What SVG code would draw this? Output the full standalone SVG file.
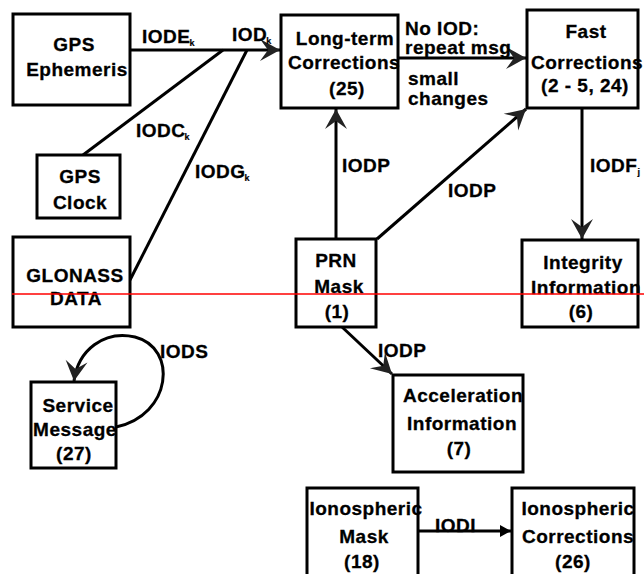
<svg xmlns="http://www.w3.org/2000/svg" width="644" height="574" viewBox="0 0 644 574">
<style>
.box{fill:#fff;stroke:#000;stroke-width:3}
.t{font-family:"Liberation Sans",Arial,sans-serif;font-weight:bold;font-size:19px;letter-spacing:0.5px;fill:#000;stroke:#000;stroke-width:0.3}
.m{text-anchor:middle}
.sub{font-size:9px;letter-spacing:0;stroke-width:0.2}
.c{fill:none;stroke:#000;stroke-width:3}
</style>
<defs>
<marker id="ah" markerUnits="userSpaceOnUse" markerWidth="24" markerHeight="26" viewBox="-22 -13 24 26" refX="0" refY="0" orient="auto">
<path d="M0,0 L-20,-11 L-12,0 L-20,11 Z" fill="#222"/>
</marker>
<marker id="ah2" markerUnits="userSpaceOnUse" markerWidth="14" markerHeight="14" viewBox="-12 -7 14 14" refX="0" refY="0" orient="auto">
<path d="M0,0 L-11,-6 L-11,6 Z" fill="#000"/>
</marker>
</defs>
<rect width="644" height="574" fill="#fff"/>
<g id="connectors">
<line class="c" x1="130" y1="50" x2="280" y2="50" marker-end="url(#ah)"/>
<line class="c" x1="83" y1="155" x2="223" y2="50"/>
<line class="c" x1="130" y1="280" x2="247" y2="50"/>
<line class="c" x1="398" y1="58" x2="526" y2="58" marker-end="url(#ah)"/>
<line class="c" x1="336" y1="239" x2="336" y2="109" marker-end="url(#ah)"/>
<line class="c" x1="377" y1="239" x2="526" y2="109" marker-end="url(#ah)"/>
<line class="c" x1="582" y1="108" x2="582" y2="239" marker-end="url(#ah)"/>
<line class="c" x1="342" y1="327" x2="392" y2="374" marker-end="url(#ah)"/>
<path class="c" d="M116,427 C172,415 178,348 135,337 C104,330 78,350 74,381" marker-end="url(#ah)"/>
<line class="c" x1="418" y1="531" x2="511" y2="531" marker-end="url(#ah2)"/>
<text class="t" x="142" y="43">IODE<tspan class="sub" dx="-1" dy="3">k</tspan></text>
<text class="t" x="232" y="41">IOD<tspan class="sub" dx="-1" dy="3">k</tspan></text>
<text class="t" x="136" y="137">IODC<tspan class="sub" dx="-1" dy="3">k</tspan></text>
<text class="t" x="195" y="178">IODG<tspan class="sub" dx="-1" dy="3">k</tspan></text>
<text class="t" x="405" y="35">No IOD:</text>
<text class="t" x="405" y="54">repeat msg</text>
<text class="t" x="408" y="85">small</text>
<text class="t" x="408" y="105">changes</text>
<text class="t" x="342" y="172">IODP</text>
<text class="t" x="448" y="197">IODP</text>
<text class="t" x="590" y="172">IODF<tspan class="sub" dx="0" dy="3">j</tspan></text>
<text class="t" x="378" y="357">IODP</text>
<text class="t" x="160" y="358">IODS</text>
<text class="t" x="435" y="532">IODI</text>
</g>
<g id="gps-ephemeris">
<rect class="box" x="13" y="14" width="117" height="91"/>
<text class="t m" x="74" y="51">GPS</text>
<text class="t m" x="77" y="76">Ephemeris</text>
</g>
<g id="gps-clock">
<rect class="box" x="37" y="155" width="83" height="63"/>
<text class="t m" x="80" y="183">GPS</text>
<text class="t m" x="80" y="209">Clock</text>
</g>
<g id="glonass">
<rect class="box" x="13" y="237" width="117" height="90"/>
<text class="t m" x="75" y="282">GLONASS</text>
<text class="t m" x="76" y="305">DATA</text>
</g>
<g id="long-term">
<rect class="box" x="281" y="15" width="117" height="93"/>
<text class="t m" x="345" y="45">Long-term</text>
<text class="t m" x="344" y="69">Corrections</text>
<text class="t m" x="347" y="95">(25)</text>
</g>
<g id="fast">
<rect class="box" x="527" y="10" width="111" height="98"/>
<text class="t m" x="586" y="38">Fast</text>
<text class="t m" x="587" y="69">Corrections</text>
<text class="t m" x="585" y="92">(2 - 5, 24)</text>
</g>
<g id="prn-mask">
<rect class="box" x="296" y="239" width="80" height="88"/>
<text class="t m" x="336" y="267">PRN</text>
<text class="t m" x="339" y="293">Mask</text>
<text class="t m" x="337" y="318">(1)</text>
</g>
<g id="integrity">
<rect class="box" x="522" y="240" width="116" height="87"/>
<text class="t m" x="583" y="269">Integrity</text>
<text class="t m" x="586" y="294">Information</text>
<text class="t m" x="581" y="318">(6)</text>
</g>
<g id="service">
<rect class="box" x="31" y="382" width="85" height="86"/>
<text class="t m" x="78" y="412">Service</text>
<text class="t m" x="75" y="436">Message</text>
<text class="t m" x="74" y="460">(27)</text>
</g>
<g id="acceleration">
<rect class="box" x="393" y="375" width="130" height="97"/>
<text class="t m" x="463" y="402">Acceleration</text>
<text class="t m" x="462" y="430">Information</text>
<text class="t m" x="459" y="455">(7)</text>
</g>
<g id="iono-mask">
<rect class="box" x="307" y="488" width="111" height="100"/>
<text class="t m" x="366" y="515">Ionospheric</text>
<text class="t m" x="364" y="543">Mask</text>
<text class="t m" x="362" y="568">(18)</text>
</g>
<g id="iono-corr">
<rect class="box" x="512" y="488" width="122" height="100"/>
<text class="t m" x="578" y="515">Ionospheric</text>
<text class="t m" x="578" y="543">Corrections</text>
<text class="t m" x="573" y="568">(26)</text>
</g>
<line x1="12" y1="294" x2="644" y2="294" stroke="#f00" stroke-width="1.5"/>
</svg>
